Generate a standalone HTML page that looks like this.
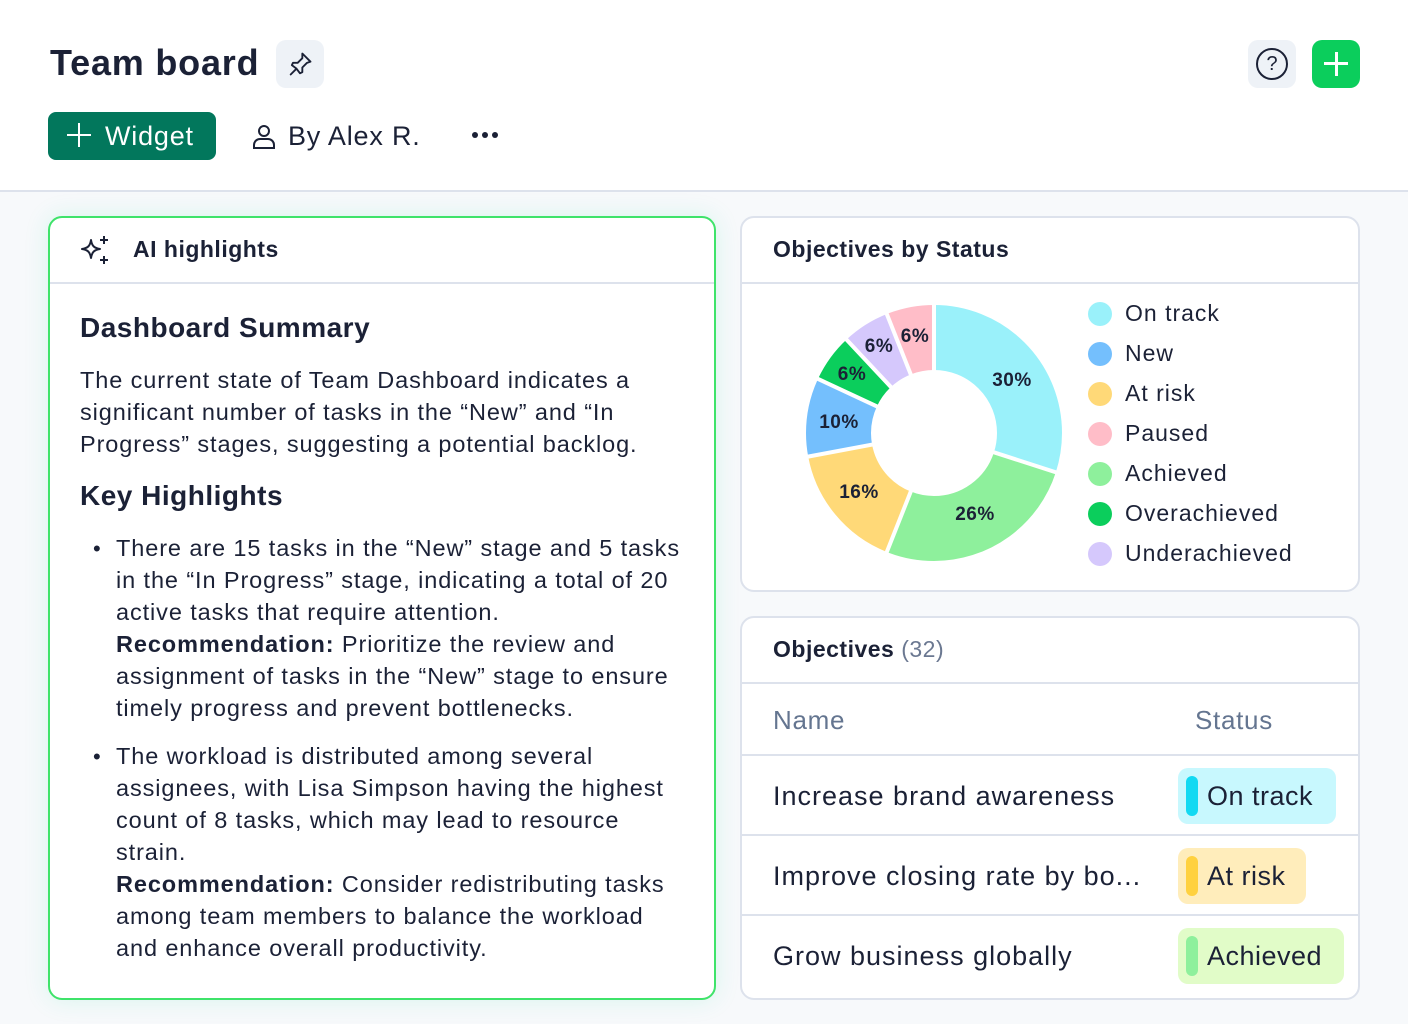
<!DOCTYPE html>
<html><head><meta charset="utf-8"><style>
*{margin:0;padding:0;box-sizing:border-box}
body{width:1408px;height:1024px;background:#fff;font-family:"Liberation Sans",sans-serif;color:#1b2136;position:relative;overflow:hidden}
.abs{position:absolute}
.bg{left:0;top:190px;width:1408px;height:834px;background:#f7f9fb;border-top:2px solid #dde2ec}
.card{background:#fff;border:2px solid #dde2ec;border-radius:14px}
.t{position:absolute;white-space:nowrap}
.hd{font-size:23px;font-weight:bold;letter-spacing:0.5px}
p.b{font-size:23.5px;line-height:32px;letter-spacing:0.9px;white-space:nowrap}
.leg{font-size:23px;letter-spacing:1px}
.dot{position:absolute;width:24px;height:24px;border-radius:50%}
.hr{position:absolute;height:2px;background:#dde2ec}
.row{font-size:27px;letter-spacing:1px}
.badge{position:absolute;height:56px;border-radius:10px;font-size:27px;line-height:56px;padding-left:29px;letter-spacing:0.5px}
.badge i{position:absolute;left:8px;top:8px;width:12px;height:40px;border-radius:6px}
</style></head><body>
<div class="t" style="left:50px;top:42px;font-size:36px;font-weight:bold;letter-spacing:0.8px">Team board</div>
<div class="abs" style="left:276px;top:40px;width:48px;height:48px;border-radius:10px;background:#eef2f7"></div>
<svg class="abs" style="left:286px;top:50px" width="28" height="28" viewBox="0 0 24 24" fill="none" stroke="#1b2136" stroke-width="1.6" stroke-linejoin="round"><path d="M14 3l7 7-3 1-4 4 0 4-2 1-3-4-5 5 5-5-4-3 1-2 4 0 4-4z"/></svg>
<div class="abs" style="left:1248px;top:40px;width:48px;height:48px;border-radius:10px;background:#eef2f7"></div>
<div class="abs" style="left:1256px;top:48px;width:32px;height:32px;border-radius:50%;border:2px solid #1b2136;text-align:center;font-size:20px;line-height:28px">?</div>
<div class="abs" style="left:1312px;top:40px;width:48px;height:48px;border-radius:10px;background:#0bce5c"></div>
<div class="abs" style="left:1324px;top:62px;width:24px;height:3px;background:#fff"></div>
<div class="abs" style="left:1334.5px;top:52px;width:3px;height:24px;background:#fff"></div>
<div class="abs" style="left:48px;top:112px;width:168px;height:48px;border-radius:8px;background:#02775c;color:#fff;font-size:27px;line-height:48px;padding-left:57px;letter-spacing:0.8px">Widget</div>
<div class="abs" style="left:67px;top:134px;width:24px;height:2px;background:#fff"></div>
<div class="abs" style="left:78px;top:123px;width:2px;height:24px;background:#fff"></div>
<svg class="abs" style="left:250px;top:122px" width="28" height="28" viewBox="0 0 28 28" fill="none" stroke="#1b2136" stroke-width="2"><circle cx="14" cy="9" r="5"/><path d="M4 26v-3a6 6 0 0 1 6-6h8a6 6 0 0 1 6 6v3z"/></svg>
<div class="t" style="left:288px;top:121px;font-size:27px;letter-spacing:0.8px">By Alex R.</div>
<div class="abs" style="left:472px;top:132px;width:6px;height:6px;border-radius:50%;background:#1b2136"></div>
<div class="abs" style="left:482px;top:132px;width:6px;height:6px;border-radius:50%;background:#1b2136"></div>
<div class="abs" style="left:492px;top:132px;width:6px;height:6px;border-radius:50%;background:#1b2136"></div>

<div class="abs bg"></div>
<div class="abs card" style="left:48px;top:216px;width:668px;height:784px;border-color:#3fe36a;box-shadow:0 0 24px rgba(40,220,160,0.15)"></div>
<svg class="abs" style="left:78px;top:234px" width="34" height="34" viewBox="0 0 34 34" fill="none" stroke="#1b2136" stroke-width="2" stroke-linejoin="round"><path d="M13 6c1 6 3 8 9 9-6 1-8 3-9 9-1-6-3-8-9-9 6-1 8-3 9-9z"/><path d="M26 2v8M22 6h8M26 22v8M22 26h8"/></svg>
<div class="t hd" style="left:133px;top:236px">AI highlights</div>
<div class="hr" style="left:50px;top:282px;width:664px"></div>
<div class="t" style="left:80px;top:312px;font-size:28px;font-weight:bold;letter-spacing:0.5px">Dashboard Summary</div>
<p class="b abs" style="left:80px;top:364px">The current state of Team Dashboard indicates a<br>significant number of tasks in the “New” and “In<br>Progress” stages, suggesting a potential backlog.</p>
<div class="t" style="left:80px;top:480px;font-size:28px;font-weight:bold;letter-spacing:0.5px">Key Highlights</div>
<div class="t" style="left:93px;top:536px;font-size:22px">•</div>
<p class="b abs" style="left:116px;top:532px">There are 15 tasks in the “New” stage and 5 tasks<br>in the “In Progress” stage, indicating a total of 20<br>active tasks that require attention.<br><b>Recommendation:</b> Prioritize the review and<br>assignment of tasks in the “New” stage to ensure<br>timely progress and prevent bottlenecks.</p>
<div class="t" style="left:93px;top:744px;font-size:22px">•</div>
<p class="b abs" style="left:116px;top:740px">The workload is distributed among several<br>assignees, with Lisa Simpson having the highest<br>count of 8 tasks, which may lead to resource<br>strain.<br><b>Recommendation:</b> Consider redistributing tasks<br>among team members to balance the workload<br>and enhance overall productivity.</p>

<div class="abs card" style="left:740px;top:216px;width:620px;height:376px"></div>
<div class="t hd" style="left:773px;top:236px">Objectives by Status</div>
<div class="hr" style="left:742px;top:282px;width:616px"></div>
<svg class="abs" style="left:0;top:0" width="1408" height="1024">
<g transform="rotate(-90 934 433)" fill="none" stroke-width="65">
<circle cx="934" cy="433" r="95.5" stroke="#9af1fa" stroke-dasharray="180.01 600.04"/>
<circle cx="934" cy="433" r="95.5" stroke="#8ef09c" stroke-dasharray="156.01 600.04" stroke-dashoffset="-180.01"/>
<circle cx="934" cy="433" r="95.5" stroke="#ffd978" stroke-dasharray="96.01 600.04" stroke-dashoffset="-336.02"/>
<circle cx="934" cy="433" r="95.5" stroke="#74bffd" stroke-dasharray="60 600.04" stroke-dashoffset="-432.03"/>
<circle cx="934" cy="433" r="95.5" stroke="#0bce5c" stroke-dasharray="36 600.04" stroke-dashoffset="-492.03"/>
<circle cx="934" cy="433" r="95.5" stroke="#d5c8fc" stroke-dasharray="36 600.04" stroke-dashoffset="-528.03"/>
<circle cx="934" cy="433" r="95.5" stroke="#ffbdc8" stroke-dasharray="36.01 600.04" stroke-dashoffset="-564.03"/>
</g>
<g stroke="#fff" stroke-width="4">
<line x1="934" y1="433" x2="934" y2="300"/><line x1="934" y1="433" x2="1058" y2="473"/><line x1="934" y1="433" x2="886" y2="554"/><line x1="934" y1="433" x2="806" y2="457"/><line x1="934" y1="433" x2="816" y2="378"/><line x1="934" y1="433" x2="845" y2="338"/><line x1="934" y1="433" x2="886" y2="312"/>
</g>
<g font-family="Liberation Sans" font-size="19" font-weight="bold" fill="#1b2136" text-anchor="middle" letter-spacing="0.5">
<text x="1012" y="386">30%</text><text x="975" y="520">26%</text><text x="859" y="498">16%</text><text x="839" y="428">10%</text><text x="852" y="380">6%</text><text x="879" y="352">6%</text><text x="915" y="342">6%</text>
</g>
</svg>
<div class="dot" style="left:1088px;top:302px;background:#9af1fa"></div><div class="t leg" style="left:1125px;top:300px">On track</div>
<div class="dot" style="left:1088px;top:342px;background:#74bffd"></div><div class="t leg" style="left:1125px;top:340px">New</div>
<div class="dot" style="left:1088px;top:382px;background:#ffd978"></div><div class="t leg" style="left:1125px;top:380px">At risk</div>
<div class="dot" style="left:1088px;top:422px;background:#ffbdc8"></div><div class="t leg" style="left:1125px;top:420px">Paused</div>
<div class="dot" style="left:1088px;top:462px;background:#8ef09c"></div><div class="t leg" style="left:1125px;top:460px">Achieved</div>
<div class="dot" style="left:1088px;top:502px;background:#0bce5c"></div><div class="t leg" style="left:1125px;top:500px">Overachieved</div>
<div class="dot" style="left:1088px;top:542px;background:#d5c8fc"></div><div class="t leg" style="left:1125px;top:540px">Underachieved</div>

<div class="abs card" style="left:740px;top:616px;width:620px;height:384px"></div>
<div class="t hd" style="left:773px;top:636px">Objectives <span style="font-weight:normal;color:#6b7891">(32)</span></div>
<div class="hr" style="left:742px;top:682px;width:616px"></div>
<div class="t" style="left:773px;top:705px;font-size:26px;color:#647590;letter-spacing:0.7px">Name</div>
<div class="t" style="left:1195px;top:705px;font-size:26px;color:#647590;letter-spacing:0.7px">Status</div>
<div class="hr" style="left:742px;top:754px;width:616px"></div>
<div class="t row" style="left:773px;top:781px">Increase brand awareness</div>
<div class="badge" style="left:1178px;top:768px;width:158px;background:#c8f8fe"><i style="background:#12d9f2"></i>On track</div>
<div class="hr" style="left:742px;top:834px;width:616px"></div>
<div class="t row" style="left:773px;top:861px">Improve closing rate by bo...</div>
<div class="badge" style="left:1178px;top:848px;width:128px;background:#ffedbb"><i style="background:#ffd13f"></i>At risk</div>
<div class="hr" style="left:742px;top:914px;width:616px"></div>
<div class="t row" style="left:773px;top:941px">Grow business globally</div>
<div class="badge" style="left:1178px;top:928px;width:166px;background:#e1fcc8"><i style="background:#8ef09c"></i>Achieved</div>
</body></html>
